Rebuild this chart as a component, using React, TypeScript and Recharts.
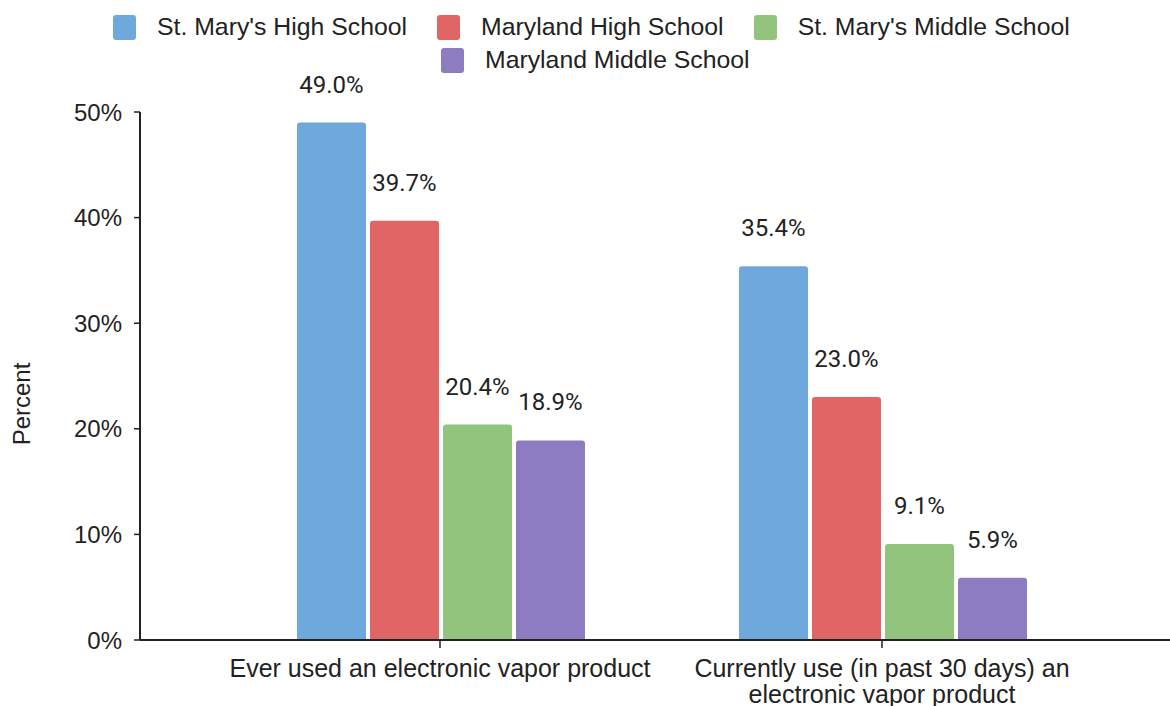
import { BarChart, Bar, XAxis, YAxis, LabelList, Label } from "recharts";

const categories = [
  "Ever used an electronic vapor product",
  "Currently use (in past 30 days) an electronic vapor product",
];
const stMarysHigh = [49.0, 35.4];
const marylandHigh = [39.7, 23.0];
const stMarysMiddle = [20.4, 9.1];
const marylandMiddle = [18.9, 5.9];
const yTicks = [0, 10, 20, 30, 40, 50];

const SERIES = [
  { key: "smh", name: "St. Mary's High School", color: "#6fa8dc" },
  { key: "mdh", name: "Maryland High School", color: "#e06666" },
  { key: "smm", name: "St. Mary's Middle School", color: "#93c47d" },
  { key: "mdm", name: "Maryland Middle School", color: "#8e7cc3" },
];

const data = categories.map((name, i) => ({
  name,
  smh: stMarysHigh[i],
  mdh: marylandHigh[i],
  smm: stMarysMiddle[i],
  mdm: marylandMiddle[i],
}));

const FONT = "'Liberation Sans', Arial, sans-serif";

// naive word wrap, good enough for two short labels
function wrap(text: string, max: number) {
  const lines: string[] = [];
  let cur = "";
  for (const w of text.split(" ")) {
    const next = cur ? cur + " " + w : w;
    if (next.length > max && cur) {
      lines.push(cur);
      cur = w;
    } else {
      cur = next;
    }
  }
  if (cur) lines.push(cur);
  return lines;
}

function XTick(props: any) {
  const { x, y, payload } = props;
  const lines = wrap(String(payload.value), 38);
  return (
    <text
      x={x}
      y={y}
      textAnchor="middle"
      fill="#222"
      fontSize={25}
      fontFamily={FONT}
    >
      {lines.map((l, i) => (
        <tspan key={i} x={x} dy={i === 0 ? 29 : 26}>
          {l}
        </tspan>
      ))}
    </text>
  );
}

function ChartLegend() {
  const rows = [SERIES.slice(0, 3), SERIES.slice(3)];
  const rowLeft = [113, 441];
  return (
    <div style={{ position: "absolute", left: 0, top: 0, width: 1170 }}>
      {rows.map((row, r) => (
        <div
          key={r}
          style={{
            position: "absolute",
            left: rowLeft[r],
            top: 14 + r * 33,
            display: "flex",
            whiteSpace: "nowrap",
          }}
        >
          {row.map((s) => (
            <div
              key={s.key}
              style={{ display: "flex", alignItems: "center", marginRight: 30 }}
            >
              <span
                style={{
                  display: "inline-block",
                  width: 23,
                  height: 25,
                  borderRadius: 3,
                  background: s.color,
                  marginRight: 21,
                }}
              />
              <span
                style={{
                  fontFamily: FONT,
                  fontSize: 24.8,
                  color: "#222",
                  lineHeight: "26px",
                }}
              >
                {s.name}
              </span>
            </div>
          ))}
        </div>
      ))}
    </div>
  );
}

export default function App() {
  return (
    <div
      style={{
        position: "absolute",
        left: 0,
        top: 0,
        width: 1170,
        height: 706,
        background: "#fff",
        overflow: "hidden",
      }}
    >
      <BarChart
        width={1170}
        height={706}
        data={data}
        margin={{ top: 112, right: 0, bottom: 0, left: 0 }}
        barCategoryGap={78}
        barGap={4}
      >
        <XAxis
          dataKey="name"
          height={66}
          padding={{ left: 79, right: 67 }}
          axisLine={{ stroke: "#222", strokeWidth: 2 }}
          tickLine={{ stroke: "#222", strokeWidth: 1.5 }}
          tickSize={8}
          tickMargin={0}
          tick={<XTick />}
          interval={0}
        />
        <YAxis
          width={140}
          domain={[0, 50]}
          ticks={yTicks}
          tickFormatter={(v) => `${v}%`}
          axisLine={{ stroke: "#222", strokeWidth: 2 }}
          tickLine={{ stroke: "#222", strokeWidth: 1.5 }}
          tickSize={6}
          tickMargin={12}
          tick={{ fill: "#222", fontSize: 24, fontFamily: FONT }}
        >
          <Label
            content={() => (
              <text
                x={30}
                y={404}
                transform="rotate(-90 30 404)"
                textAnchor="middle"
                fill="#222"
                fontSize={24}
                fontFamily={FONT}
              >
                Percent
              </text>
            )}
          />
        </YAxis>
        {SERIES.map((s) => (
          <Bar
            key={s.key}
            dataKey={s.key}
            name={s.name}
            fill={s.color}
            radius={[3, 3, 0, 0]}
            isAnimationActive={false}
          >
            <LabelList
              dataKey={s.key}
              position="top"
              offset={30}
              formatter={(v: any) => `${Number(v).toFixed(1)}%`}
              style={{ fill: "#222", fontSize: 24, fontFamily: "Roboto, sans-serif" }}
            />
          </Bar>
        ))}
      </BarChart>
      <ChartLegend />
    </div>
  );
}
